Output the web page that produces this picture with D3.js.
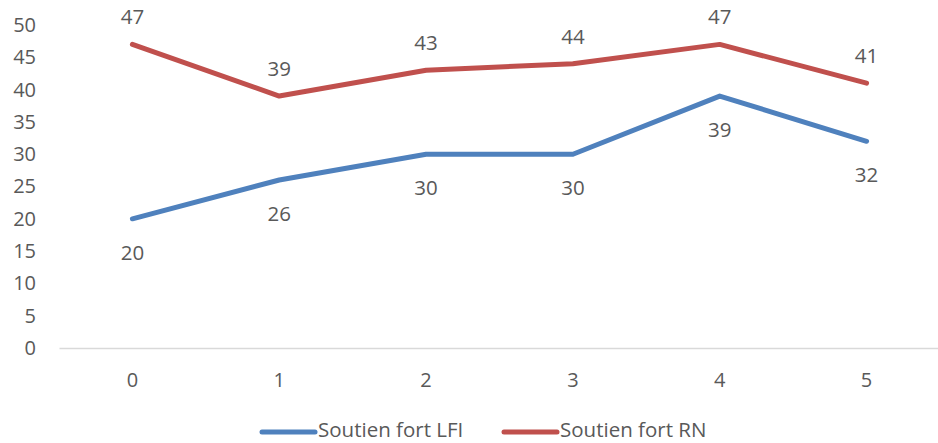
<!DOCTYPE html>
<html>
<head>
<meta charset="utf-8">
<script src="https://cdn.jsdelivr.net/npm/d3@7"></script>
<style>
  body { margin: 0; background: #fff; }
  text { font-family: "Open Sans", sans-serif; fill: #595959; }
</style>
</head>
<body>
<div class="chart"></div>
<script>
// data
var categories = ["0", "1", "2", "3", "4", "5"];
var lfiValues = [20, 26, 30, 30, 39, 32];
var rnValues = [47, 39, 43, 44, 47, 41];
var yTicks = [0, 5, 10, 15, 20, 25, 30, 35, 40, 45, 50];
var seriesNames = ["Soutien fort LFI", "Soutien fort RN"];

var width = 938, height = 443;
var margin = { top: 25, right: -2, bottom: 95, left: 59 };

var svg = d3.select('.chart').append('svg')
    .attr('width', width)
    .attr('height', height);

var x = d3.scaleBand()
    .domain(categories)
    .range([margin.left, width - margin.right]);

var y = d3.scaleLinear()
    .domain([0, 50])
    .range([height - margin.bottom, margin.top]);

// y axis labels, no line
var yAxis = svg.append('g')
    .attr('transform', 'translate(' + 36 + ',0)')
    .call(d3.axisLeft(y).tickValues(yTicks).tickSize(0).tickPadding(0));
yAxis.select('.domain').remove();
yAxis.selectAll('text')
    .style('font-size', '20px')
    .style('font-family', '"Open Sans", sans-serif')
    .attr('fill', '#595959');

// x axis
var xAxis = svg.append('g')
    .attr('transform', 'translate(0,' + y(0) + ')')
    .call(d3.axisBottom(x).tickSize(0).tickPadding(25));
xAxis.select('.domain').attr('stroke', '#d9d9d9').attr('stroke-width', 1.5);
xAxis.selectAll('text')
    .style('font-size', '20px')
    .style('font-family', '"Open Sans", sans-serif')
    .attr('fill', '#595959');

var series = [
    { name: seriesNames[0], values: lfiValues, color: '#4f81bd', labelDy: 41 },
    { name: seriesNames[1], values: rnValues, color: '#c0504d', labelDy: -20 }
];

var line = d3.line()
    .x(function(d, i) { return x(categories[i]) + x.bandwidth() / 2; })
    .y(function(d) { return y(d); });

series.forEach(function(s) {
    svg.append('path')
        .datum(s.values)
        .attr('d', line)
        .attr('fill', 'none')
        .attr('stroke', s.color)
        .attr('stroke-width', 5)
        .attr('stroke-linecap', 'round')
        .attr('stroke-linejoin', 'round');

    svg.append('g').selectAll('text')
        .data(s.values)
        .enter().append('text')
        .attr('x', function(d, i) { return x(categories[i]) + x.bandwidth() / 2; })
        .attr('y', function(d) { return y(d) + s.labelDy; })
        .attr('text-anchor', 'middle')
        .style('font-size', '20.5px')
        .text(function(d) { return d; });
});

// legend
var legend = svg.append('g')
    .attr('transform', 'translate(262,' + 432 + ')');
var legendX = [0, 242];
series.forEach(function(s, i) {
    var g = legend.append('g').attr('transform', 'translate(' + legendX[i] + ',0)');
    g.append('line')
        .attr('x1', 0).attr('x2', 53)
        .attr('stroke', s.color)
        .attr('stroke-width', 5)
        .attr('stroke-linecap', 'round');
    g.append('text')
        .attr('x', 56)
        .attr('y', 5)
        .style('font-size', '20.5px')
        .text(s.name);
});
</script>
</body>
</html>
